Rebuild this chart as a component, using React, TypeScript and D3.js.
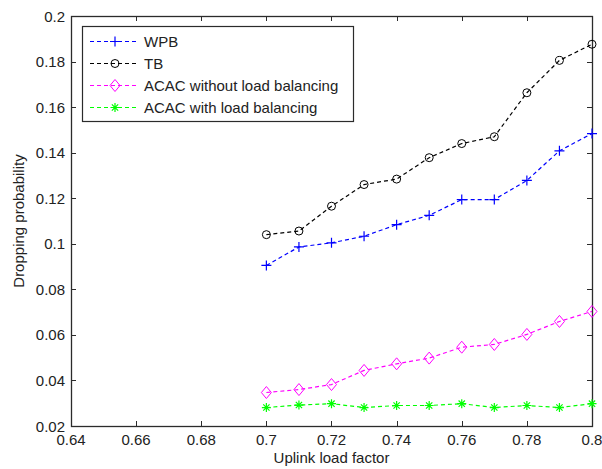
import React, { useRef, useEffect } from "react";
import * as d3 from "d3";

const loadFactor = [0.7, 0.71, 0.72, 0.73, 0.74, 0.75, 0.76, 0.77, 0.78, 0.79, 0.8];
const wpb = [0.0905, 0.0986, 0.1004, 0.1033, 0.1084, 0.1125, 0.1194, 0.1194, 0.1278, 0.1408, 0.1484];
const tb = [0.104, 0.1056, 0.1165, 0.126, 0.1284, 0.1378, 0.144, 0.147, 0.1663, 0.1805, 0.1876];
const acacNoLb = [0.0347, 0.036, 0.0382, 0.0444, 0.0473, 0.0498, 0.0546, 0.0558, 0.0602, 0.0659, 0.0703];
const acacLb = [0.0281, 0.0292, 0.0298, 0.0281, 0.029, 0.029, 0.0298, 0.0281, 0.029, 0.0281, 0.0298];

const xTicks = [0.64, 0.66, 0.68, 0.7, 0.72, 0.74, 0.76, 0.78, 0.8];
const yTicks = [0.02, 0.04, 0.06, 0.08, 0.1, 0.12, 0.14, 0.16, 0.18, 0.2];

const seriesNames = ["WPB", "TB", "ACAC without load balancing", "ACAC with load balancing"];
const seriesColors = ["#0000ff", "#000000", "#ff00ff", "#00ff00"];
const seriesMarkers = ["plus", "circle", "diamond", "star"];

const FONT = "'Liberation Sans', Arial, Helvetica, sans-serif";

function drawMarker(g, kind, color, cx, cy) {
  if (kind === "plus") {
    g.append("path")
      .attr("d", `M${cx - 5},${cy}H${cx + 5}M${cx},${cy - 5}V${cy + 5}`)
      .attr("stroke", color).attr("stroke-width", 1.2).attr("fill", "none");
  } else if (kind === "circle") {
    g.append("circle").attr("cx", cx).attr("cy", cy).attr("r", 4)
      .attr("stroke", color).attr("stroke-width", 1).attr("fill", "none");
  } else if (kind === "diamond") {
    g.append("path")
      .attr("d", `M${cx},${cy - 6}L${cx + 5},${cy}L${cx},${cy + 6}L${cx - 5},${cy}Z`)
      .attr("stroke", color).attr("stroke-width", 1).attr("fill", "none");
  } else {
    const r = 4.5;
    const d = r * 0.7;
    g.append("path")
      .attr("d", `M${cx - r},${cy}H${cx + r}M${cx},${cy - r}V${cy + r}M${cx - d},${cy - d}L${cx + d},${cy + d}M${cx - d},${cy + d}L${cx + d},${cy - d}`)
      .attr("stroke", color).attr("stroke-width", 1.2).attr("fill", "none");
  }
}

function App() {
  const svgRef = useRef(null);

  useEffect(() => {
    const width = 602;
    const height = 469;
    const margin = { top: 16, right: 10, bottom: 43, left: 71 };

    const svg = d3.select(svgRef.current)
      .attr("width", width)
      .attr("height", height);

    svg.selectAll("*").remove();

    const x = d3.scaleLinear()
      .domain([0.64, 0.8])
      .range([margin.left, width - margin.right]);

    const y = d3.scaleLinear()
      .domain([0.02, 0.2])
      .range([height - margin.bottom, margin.top]);

    const [x0, x1] = x.range();
    const [y0, y1] = y.range();

    svg.append("rect")
      .attr("width", width).attr("height", height).attr("fill", "#fff");

    // BOX + TICKS
    const axisColor = "#2b2b2b";
    const tickLen = 5;
    const ticks = svg.append("g").attr("stroke", axisColor).attr("stroke-width", 1);
    xTicks.forEach(t => {
      const px = Math.round(x(t)) + 0.5;
      ticks.append("line").attr("x1", px).attr("x2", px).attr("y1", y0).attr("y2", y0 - tickLen);
      ticks.append("line").attr("x1", px).attr("x2", px).attr("y1", y1).attr("y2", y1 + tickLen);
    });
    yTicks.forEach(t => {
      const py = Math.round(y(t)) + 0.5;
      ticks.append("line").attr("x1", x0).attr("x2", x0 + tickLen).attr("y1", py).attr("y2", py);
      ticks.append("line").attr("x1", x1).attr("x2", x1 - tickLen).attr("y1", py).attr("y2", py);
    });
    svg.append("rect")
      .attr("x", x0 + 0.5).attr("y", y1 + 0.5)
      .attr("width", x1 - x0).attr("height", y0 - y1)
      .attr("fill", "none").attr("stroke", axisColor).attr("stroke-width", 1.3);

    // TICK LABELS
    svg.append("g")
      .selectAll("text")
      .data(xTicks)
      .enter()
      .append("text")
      .attr("x", d => x(d))
      .attr("y", y0 + 19)
      .attr("text-anchor", "middle")
      .attr("font-family", FONT)
      .attr("font-size", 15)
      .attr("fill", "#222")
      .text(d => d3.format("")(+d.toFixed(2)));

    svg.append("g")
      .selectAll("text")
      .data(yTicks)
      .enter()
      .append("text")
      .attr("x", x0 - 6)
      .attr("y", d => y(d) + 5.5)
      .attr("text-anchor", "end")
      .attr("font-family", FONT)
      .attr("font-size", 15)
      .attr("fill", "#222")
      .text(d => d3.format("")(+d.toFixed(2)));

    // AXIS LABELS
    svg.append("text")
      .attr("x", (x0 + x1) / 2)
      .attr("y", 463)
      .attr("text-anchor", "middle")
      .attr("font-family", FONT)
      .attr("font-size", 15)
      .attr("fill", "#222")
      .text("Uplink load factor");

    svg.append("text")
      .attr("transform", "rotate(-90)")
      .attr("x", -221)
      .attr("y", 24)
      .attr("text-anchor", "middle")
      .attr("font-family", FONT)
      .attr("font-size", 15)
      .attr("fill", "#222")
      .text("Dropping probability");

    // SERIES
    const allSeries = [wpb, tb, acacNoLb, acacLb];
    const line = d3.line()
      .x((d, i) => x(loadFactor[i]))
      .y(d => y(d));

    allSeries.forEach((vals, s) => {
      const g = svg.append("g");
      g.append("path")
        .attr("d", line(vals))
        .attr("fill", "none")
        .attr("stroke", seriesColors[s])
        .attr("stroke-width", 1.2)
        .attr("stroke-dasharray", "4,3");
      vals.forEach((v, i) => drawMarker(g, seriesMarkers[s], seriesColors[s], x(loadFactor[i]), y(v)));
    });

    // LEGEND
    const lg = svg.append("g");
    lg.append("rect")
      .attr("x", 82.5).attr("y", 26.5)
      .attr("width", 271).attr("height", 95)
      .attr("fill", "#fff").attr("stroke", axisColor).attr("stroke-width", 1.2);
    seriesNames.forEach((name, s) => {
      const ly = 41.5 + s * 22;
      lg.append("line")
        .attr("x1", 90).attr("x2", 138).attr("y1", ly).attr("y2", ly)
        .attr("stroke", seriesColors[s]).attr("stroke-width", 1.2)
        .attr("stroke-dasharray", "4,3");
      drawMarker(lg, seriesMarkers[s], seriesColors[s], 115, ly);
      lg.append("text")
        .attr("x", 144).attr("y", ly + 5.5)
        .attr("font-family", FONT)
        .attr("font-size", 15)
        .attr("fill", "#222")
        .text(name);
    });
  }, []);

  return (
    <svg ref={svgRef} style={{ position: "absolute", left: 0, top: 0, display: "block" }}></svg>
  );
}

export default App;
